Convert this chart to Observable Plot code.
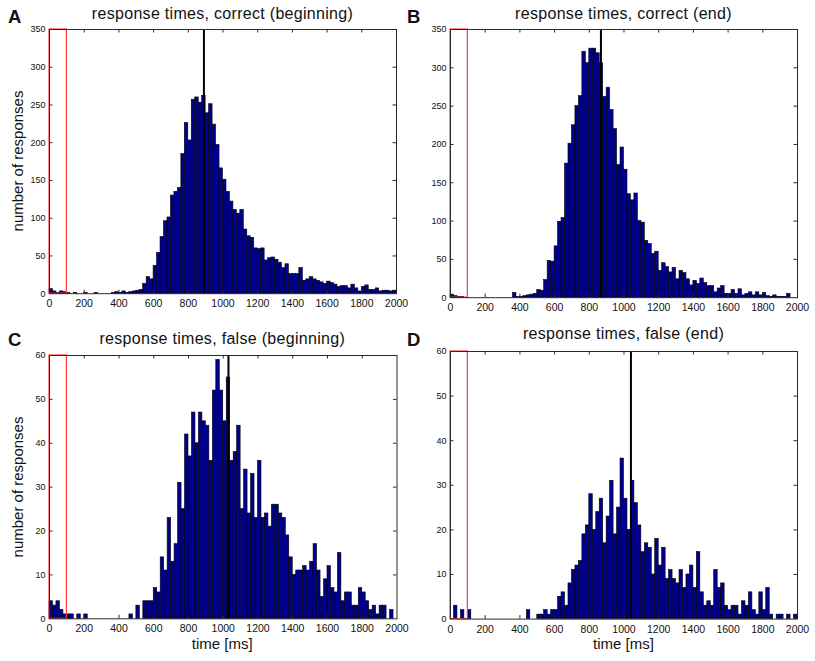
<!DOCTYPE html>
<html>
<head>
<meta charset="utf-8">
<script src="https://cdn.jsdelivr.net/npm/d3@7"></script>
<script src="https://cdn.jsdelivr.net/npm/@observablehq/plot@0.6"></script>
<style>
  body { margin: 0; background: #fff; }
  #fig { position: relative; width: 815px; height: 661px; font-family: "Liberation Sans", Arial, sans-serif; color: #111; overflow: hidden; }
  .panel { position: absolute; }
  .title { position: absolute; font-size: 16px; line-height: 16px; letter-spacing: 0.3px; white-space: nowrap; transform: translateX(-50%); }
  .letter { position: absolute; font-size: 18.5px; line-height: 18px; font-weight: bold; }
  .ylab { position: absolute; font-size: 15px; line-height: 15px; white-space: nowrap; transform: translate(-50%, -50%) rotate(-90deg); }
  .xlab { position: absolute; font-size: 15px; line-height: 15px; white-space: nowrap; transform: translateX(-50%); }
</style>
</head>
<body>
<div id="fig"></div>
<script>
// ---------- DATA (counts per 20 ms bin, 0–2000 ms) ----------
const binWidthMs = 20;
const timeTicks = [0, 200, 400, 600, 800, 1000, 1200, 1400, 1600, 1800, 2000];
const countTicksCorrect = [0, 50, 100, 150, 200, 250, 300, 350];
const countTicksFalse = [0, 10, 20, 30, 40, 50, 60];
const earlyWindow = [0, 100]; // red box (ms)

const correctBeginning = [
  6,3,1,3,2,1,0,1,0,0, 1,0,0,1,0,0,0,0,1,2,
  1,3,1,2,3,4,5,13,22,19, 37,54,75,96,101,130,135,140,185,226,
  203,257,260,253,262,239,251,224,197,166, 151,135,122,111,106,111,85,76,74,60,
  59,60,44,47,48,45,41,34,39,26, 26,26,34,17,19,22,19,17,15,13,
  16,14,12,9,10,10,7,12,7,3, 9,11,5,5,7,3,4,4,3,4
];
const correctEnd = [
  4,2,1,1,0,0,0,0,0,0, 0,0,0,0,0,0,0,0,6,1,
  1,2,3,4,5,10,9,23,48,47, 67,99,104,175,201,225,250,263,321,306,
  325,325,319,306,262,274,245,220,173,196, 167,135,127,136,100,98,74,70,57,60,
  35,45,40,33,39,24,35,32,24,16, 22,18,25,19,15,15,7,12,15,5,
  5,10,5,11,3,5,7,3,7,3, 6,2,1,3,1,1,1,5,0,0
];
const falseBeginning = [
  4,3,4,2,1,1,1,0,1,0, 1,0,0,0,0,0,0,0,0,0,
  0,0,0,1,0,3,0,4,4,4, 7,6,14,11,23,13,17,31,25,42,
  37,47,40,47,45,44,36,52,59,52, 45,55,36,38,44,25,34,24,33,23,
  36,23,24,21,26,26,24,23,19,14, 10,11,11,12,11,13,17,11,5,9,
  12,7,6,15,4,6,6,3,3,7, 6,4,2,3,1,3,3,0,2,0
];
const falseEnd = [
  0,3,0,2,0,2,0,0,0,0, 0,0,0,0,0,0,0,0,0,0,
  0,0,2,0,0,1,1,2,1,2, 2,5,6,3,8,11,12,13,19,21,
  28,20,24,27,17,23,31,19,25,36, 27,20,31,26,21,15,17,16,10,18,
  12,16,9,11,9,8,11,7,10,12, 7,15,6,3,4,3,11,7,8,3,
  2,3,3,1,4,3,6,2,1,6, 2,7,1,0,1,1,0,1,0,1
];
// vertical black lines (ms)
const medians = { A: 890, B: 867, C: 1030, D: 1040 };

// ---------- LAYOUT ----------
const panels = [
  { id: "A", title: "response times, correct (beginning)", values: correctBeginning, yTicks: countTicksCorrect,
    frame: { l: 49, r: 396, t: 29.3, b: 293.5 }, titleTop: 5.5, letterTop: 7.5, letterLeft: 8, ylab: true, xlab: false },
  { id: "B", title: "response times, correct (end)", values: correctEnd, yTicks: countTicksCorrect,
    frame: { l: 450, r: 797, t: 29.3, b: 297.5 }, titleTop: 5.5, letterTop: 7.5, letterLeft: 407, ylab: false, xlab: false },
  { id: "C", title: "response times, false (beginning)", values: falseBeginning, yTicks: countTicksFalse,
    frame: { l: 48.5, r: 396, t: 355, b: 618.3 }, titleTop: 330.5, letterTop: 331, letterLeft: 8, ylab: true, xlab: true },
  { id: "D", title: "response times, false (end)", values: falseEnd, yTicks: countTicksFalse,
    frame: { l: 450, r: 797, t: 350.7, b: 618.3 }, titleTop: 326, letterTop: 331, letterLeft: 407, ylab: false, xlab: true }
];

const fig = document.getElementById("fig");
const ML = 40, MR = 12, MT = 8, MB = 26;
const tickLen = 3.5;

for (const p of panels) {
  const pw = p.frame.r - p.frame.l;
  const ph = p.frame.b - p.frame.t;
  const ymax = p.yTicks[p.yTicks.length - 1];
  const bins = p.values.map((v, i) => ({ x0: i * binWidthMs, x1: (i + 1) * binWidthMs, v }));

  const chart = Plot.plot({
    width: pw + ML + MR,
    height: ph + MT + MB,
    marginLeft: ML, marginRight: MR, marginTop: MT, marginBottom: MB,
    x: { domain: [timeTicks[0], timeTicks[timeTicks.length - 1]], axis: null, label: null },
    y: { domain: [0, ymax], axis: null, label: null },
    style: { fontFamily: '"Liberation Sans", Arial, sans-serif', fontSize: "10px", color: "#111", background: "transparent", overflow: "visible" },
    marks: [
      Plot.rectY(bins, { x1: "x0", x2: "x1", y: "v", fill: "#00008f", stroke: "#000", strokeWidth: 0.6 }),
      Plot.rect([earlyWindow], { x1: d => d[0], x2: d => d[1], y1: 0, y2: ymax, fill: "none", stroke: "#ff3a3a", strokeWidth: 1.2 }),
      Plot.ruleX([medians[p.id]], { stroke: "#000", strokeWidth: 2 }),
      Plot.frame({ stroke: "#2a2a2a", strokeWidth: 1 }),
      Plot.tickX(timeTicks.slice(1, -1), { x: d => d, insetTop: ph - tickLen, stroke: "#2a2a2a" }),
      Plot.tickX(timeTicks.slice(1, -1), { x: d => d, insetBottom: ph - tickLen, stroke: "#2a2a2a" }),
      Plot.tickY(p.yTicks.slice(1, -1), { y: d => d, insetRight: pw - tickLen, stroke: "#2a2a2a" }),
      Plot.tickY(p.yTicks.slice(1, -1), { y: d => d, insetLeft: pw - tickLen, stroke: "#2a2a2a" }),
      Plot.axisX(timeTicks, { tickSize: 0, tickPadding: 6, fontSize: 10.5, label: null, tickFormat: d => String(d) }),
      Plot.axisY(p.yTicks, { tickSize: 0, tickPadding: 4, fontSize: 9, label: null, tickFormat: d => String(d) })
    ]
  });
  chart.classList.add("panel");
  chart.style.left = (p.frame.l - ML) + "px";
  chart.style.top = (p.frame.t - MT) + "px";
  fig.appendChild(chart);

  const cx = (p.frame.l + p.frame.r) / 2;
  const t = document.createElement("div");
  t.className = "title"; t.textContent = p.title;
  t.style.left = cx + "px"; t.style.top = p.titleTop + "px";
  fig.appendChild(t);

  const L = document.createElement("div");
  L.className = "letter"; L.textContent = p.id;
  L.style.left = p.letterLeft + "px"; L.style.top = p.letterTop + "px";
  fig.appendChild(L);

  if (p.ylab) {
    const y = document.createElement("div");
    y.className = "ylab"; y.textContent = "number of responses";
    y.style.left = "17px"; y.style.top = ((p.frame.t + p.frame.b) / 2) + "px";
    fig.appendChild(y);
  }
  if (p.xlab) {
    const x = document.createElement("div");
    x.className = "xlab"; x.textContent = "time [ms]";
    x.style.left = cx + "px"; x.style.top = "636px";
    fig.appendChild(x);
  }
}
</script>
</body>
</html>
